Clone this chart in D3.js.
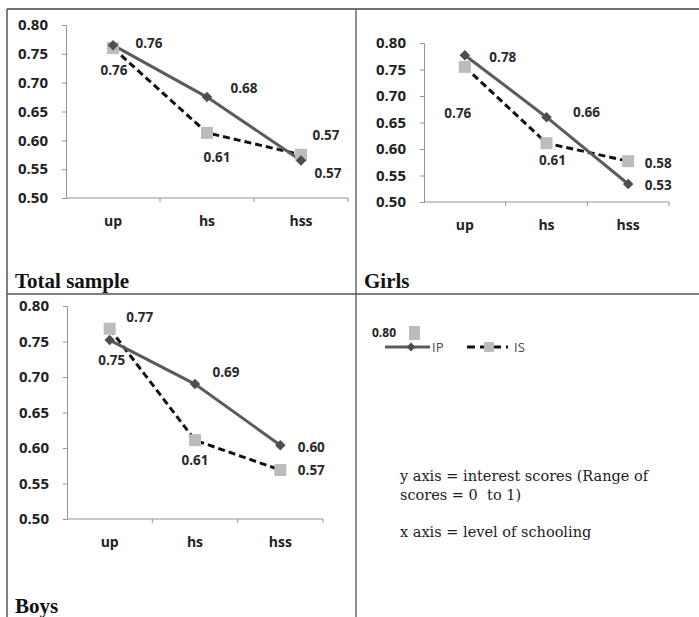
<!DOCTYPE html>
<html>
<head>
<meta charset="utf-8">
<script src="https://cdn.jsdelivr.net/npm/d3@7"></script>
<style>
  body { margin: 0; background: #fff; }
  svg { display: block; }
</style>
</head>
<body>
<svg width="699" height="617"></svg>
<script>
var svg = d3.select('svg');

// data
var categories = ["up", "hs", "hss"];
var yTicks = [0.50, 0.55, 0.60, 0.65, 0.70, 0.75, 0.80];
var panelNames = ["Total sample", "Girls", "Boys"];

var ipTotal = [0.765, 0.675, 0.565];
var isTotal = [0.760, 0.613, 0.575];
var ipTotalLabels = ["0.76", "0.68", "0.57"];
var isTotalLabels = ["0.76", "0.61", "0.57"];

var ipGirls = [0.777, 0.660, 0.534];
var isGirls = [0.755, 0.611, 0.577];
var ipGirlsLabels = ["0.78", "0.66", "0.53"];
var isGirlsLabels = ["0.76", "0.61", "0.58"];

var ipBoys = [0.752, 0.690, 0.604];
var isBoys = [0.768, 0.611, 0.569];
var ipBoysLabels = ["0.75", "0.69", "0.60"];
var isBoysLabels = ["0.77", "0.61", "0.57"];

var noteLines = ["y axis = interest scores (Range of", "scores = 0  to 1)", "", "x axis = level of schooling"];

// panel geometry (plot box and label nudges)
var panels = [
  { name: panelNames[0], ip: ipTotal, is: isTotal, ipL: ipTotalLabels, isL: isTotalLabels,
    x0: 66, x1: 348, yT: 25, yB: 198, titleX: 15, titleY: 288,
    ipOff: [[36, -2], [37, -9], [27, 12]], isOff: [[1, 22], [10, 24], [25, -20]] },
  { name: panelNames[1], ip: ipGirls, is: isGirls, ipL: ipGirlsLabels, isL: isGirlsLabels,
    x0: 424, x1: 669, yT: 43, yB: 202, titleX: 364, titleY: 288,
    ipOff: [[38, 2], [40, -5], [30, 1]], isOff: [[-7, 46], [6, 17], [30, 2]] },
  { name: panelNames[2], ip: ipBoys, is: isBoys, ipL: ipBoysLabels, isL: isBoysLabels,
    x0: 67, x1: 323, yT: 306, yB: 519, titleX: 15, titleY: 613,
    ipOff: [[2, 20], [31, -12], [31, 2]], isOff: [[30, -12], [0, 20], [31, 0]] }
];

var axisCol = "#9a928c";
var ipCol = "#5b5b5b";
var isSq = "#bcbcbc";
var numFont = "'Open Sans', sans-serif";

function drawPanel(p) {
  var g = svg.append("g");
  var x = d3.scaleBand().domain(categories).range([p.x0, p.x1]);
  var y = d3.scaleLinear().domain([0.5, 0.8]).range([p.yB, p.yT]);

  // y axis
  var ya = g.append("g").attr("transform", "translate(" + p.x0 + ",0)")
    .call(d3.axisLeft(y).tickValues(yTicks).tickFormat(d3.format(".2f")).tickSize(4).tickPadding(14));
  ya.select(".domain").attr("stroke", axisCol);
  ya.selectAll(".tick line").attr("stroke", axisCol);
  ya.selectAll("text").attr("font-family", numFont).attr("font-weight", 700)
    .attr("font-size", 15).attr("fill", "#222");

  // x axis with ticks on band edges
  var xa = g.append("g").attr("transform", "translate(0," + p.yB + ")")
    .call(d3.axisBottom(x).tickSize(0).tickPadding(18));
  xa.select(".domain").attr("stroke", axisCol).attr("d", "M" + p.x0 + ",0H" + p.x1);
  xa.selectAll("text").attr("font-family", numFont).attr("font-weight", 700)
    .attr("font-size", 14).attr("fill", "#222");
  var edges = categories.map(function(c) { return x(c) + x.bandwidth(); });
  xa.selectAll("line.edge").data(edges).enter().append("line")
    .attr("x1", function(d) { return d; }).attr("x2", function(d) { return d; })
    .attr("y1", 0).attr("y2", 4).attr("stroke", axisCol);

  function cx(d, i) { return x(categories[i]) + x.bandwidth() / 2; }

  var line = d3.line().x(function(d, i) { return cx(d, i); }).y(function(d) { return y(d); });

  // IS (dashed, light squares) behind, IP on top
  g.append("path").datum(p.is).attr("d", line).attr("fill", "none")
    .attr("stroke", "#111").attr("stroke-width", 3).attr("stroke-dasharray", "7,4");
  g.append("path").datum(p.ip).attr("d", line).attr("fill", "none")
    .attr("stroke", ipCol).attr("stroke-width", 3);

  g.selectAll("rect.is").data(p.is).enter().append("rect")
    .attr("x", function(d, i) { return cx(d, i) - 6; })
    .attr("y", function(d) { return y(d) - 6; })
    .attr("width", 12).attr("height", 12).attr("fill", isSq);

  g.selectAll("path.ipm").data(p.ip).enter().append("path")
    .attr("d", d3.symbol().type(d3.symbolDiamond2).size(70))
    .attr("transform", function(d, i) { return "translate(" + cx(d, i) + "," + y(d) + ")"; })
    .attr("fill", "#4e4e4e");

  function labels(vals, texts, offs) {
    g.selectAll(null).data(vals).enter().append("text")
      .attr("x", function(d, i) { return cx(d, i) + offs[i][0]; })
      .attr("y", function(d, i) { return y(d) + offs[i][1]; })
      .attr("text-anchor", "middle").attr("dominant-baseline", "central")
      .attr("font-family", numFont).attr("font-weight", 700).attr("font-size", 13.5)
      .attr("fill", "#2a2a2a")
      .text(function(d, i) { return texts[i]; });
  }
  labels(p.ip, p.ipL, p.ipOff);
  labels(p.is, p.isL, p.isOff);

  g.append("text").attr("x", p.titleX).attr("y", p.titleY)
    .attr("font-family", "'Liberation Serif', serif").attr("font-weight", 700)
    .attr("font-size", 21).attr("fill", "#111").text(p.name);
}

panels.forEach(drawPanel);

// legend remnant in the fourth cell
var lg = svg.append("g");
lg.append("text").attr("x", 372).attr("y", 337).attr("font-family", numFont)
  .attr("font-weight", 700).attr("font-size", 12).attr("fill", "#222").text("0.80");
lg.append("rect").attr("x", 409).attr("y", 326).attr("width", 11).attr("height", 14).attr("fill", isSq);
lg.append("line").attr("x1", 385).attr("x2", 430).attr("y1", 347).attr("y2", 347)
  .attr("stroke", ipCol).attr("stroke-width", 3);
lg.append("path").attr("d", d3.symbol().type(d3.symbolDiamond2).size(50))
  .attr("transform", "translate(411,347)").attr("fill", "#4e4e4e");
lg.append("text").attr("x", 432).attr("y", 352).attr("font-family", numFont)
  .attr("font-size", 13).attr("fill", "#4a4a55").text("IP");
lg.append("line").attr("x1", 467).attr("x2", 508).attr("y1", 347).attr("y2", 347)
  .attr("stroke", "#111").attr("stroke-width", 3).attr("stroke-dasharray", "8,5");
lg.append("rect").attr("x", 484).attr("y", 342).attr("width", 10).attr("height", 10).attr("fill", isSq);
lg.append("text").attr("x", 514).attr("y", 352).attr("font-family", numFont)
  .attr("font-size", 13).attr("fill", "#4a4a55").text("IS");

// note text
svg.append("g").selectAll("text").data(noteLines).enter().append("text")
  .attr("x", 400).attr("y", function(d, i) { return 481 + i * 18.5; })
  .attr("font-family", "'DejaVu Serif', serif").attr("font-size", 14.5)
  .style("white-space", "pre")
  .attr("fill", "#222").text(function(d) { return d; });

// cell borders
var b = svg.append("g").attr("fill", "none");
b.append("line").attr("x1", 7).attr("x2", 699).attr("y1", 9).attr("y2", 9).attr("stroke", "#444").attr("stroke-width", 1.5);
b.append("line").attr("x1", 7).attr("x2", 7).attr("y1", 9).attr("y2", 617).attr("stroke", "#555").attr("stroke-width", 1.5);
b.append("line").attr("x1", 356).attr("x2", 356).attr("y1", 9).attr("y2", 617).attr("stroke", "#6e6866").attr("stroke-width", 1.5);
b.append("line").attr("x1", 7).attr("x2", 699).attr("y1", 294).attr("y2", 294).attr("stroke", "#555").attr("stroke-width", 1.5);
</script>
</body>
</html>
